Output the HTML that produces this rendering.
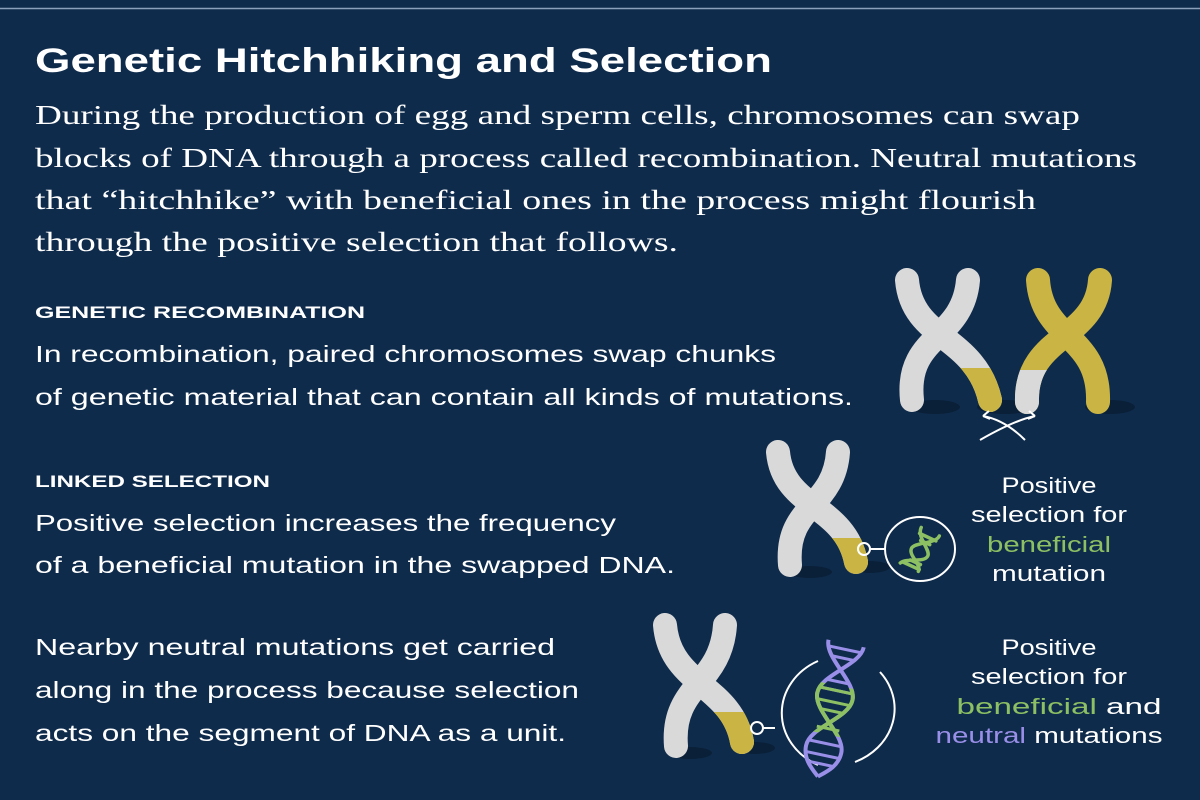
<!DOCTYPE html>
<html><head><meta charset="utf-8"><style>
html,body{margin:0;padding:0;background:#0f2b4c;}
svg{display:block}
.t{font-family:"Liberation Sans",sans-serif;fill:#fff}
.s{font-family:"Liberation Serif",serif;fill:#fff}
</style></head><body>
<svg width="1200" height="800" viewBox="0 0 1200 800" xmlns="http://www.w3.org/2000/svg">
<defs>
<clipPath id="c1"><rect x="955" y="368" width="60" height="60"/></clipPath>
<clipPath id="c2"><rect x="1000" y="370" width="60" height="60"/></clipPath>
<clipPath id="c3"><rect x="820" y="538" width="60" height="60"/></clipPath>
<clipPath id="c4"><rect x="705" y="712" width="60" height="60"/></clipPath>
<clipPath id="cg"><rect x="780" y="685" width="100" height="50"/></clipPath>
</defs>
<rect width="1200" height="800" fill="#0f2b4c"/>
<line x1="0" y1="8.5" x2="1200" y2="8.5" stroke="#8aa0bb" stroke-width="1.5"/>
<text x="35" y="72" class="t" font-size="34" font-weight="bold" textLength="737" lengthAdjust="spacingAndGlyphs">Genetic Hitchhiking and Selection</text>
<g class="s" font-size="27">
<text x="35" y="124" textLength="1045" lengthAdjust="spacingAndGlyphs">During the production of egg and sperm cells, chromosomes can swap</text>
<text x="35" y="167" textLength="1102" lengthAdjust="spacingAndGlyphs">blocks of DNA through a process called recombination. Neutral mutations</text>
<text x="35" y="209" textLength="1001" lengthAdjust="spacingAndGlyphs">that “hitchhike” with beneficial ones in the process might flourish</text>
<text x="35" y="251" textLength="643" lengthAdjust="spacingAndGlyphs">through the positive selection that follows.</text>
</g>
<g class="t">
<text x="35" y="318" font-size="17" font-weight="bold" textLength="330" lengthAdjust="spacingAndGlyphs">GENETIC RECOMBINATION</text>
<text x="35" y="362" font-size="23" textLength="741" lengthAdjust="spacingAndGlyphs">In recombination, paired chromosomes swap chunks</text>
<text x="35" y="405" font-size="23" textLength="818" lengthAdjust="spacingAndGlyphs">of genetic material that can contain all kinds of mutations.</text>
<text x="35" y="487" font-size="17" font-weight="bold" textLength="235" lengthAdjust="spacingAndGlyphs">LINKED SELECTION</text>
<text x="35" y="531" font-size="23" textLength="581" lengthAdjust="spacingAndGlyphs">Positive selection increases the frequency</text>
<text x="35" y="573" font-size="23" textLength="640" lengthAdjust="spacingAndGlyphs">of a beneficial mutation in the swapped DNA.</text>
<text x="35" y="655" font-size="23" textLength="520" lengthAdjust="spacingAndGlyphs">Nearby neutral mutations get carried</text>
<text x="35" y="698" font-size="23" textLength="544" lengthAdjust="spacingAndGlyphs">along in the process because selection</text>
<text x="35" y="741" font-size="23" textLength="531" lengthAdjust="spacingAndGlyphs">acts on the segment of DNA as a unit.</text>
</g>
<g class="t" font-size="22" text-anchor="middle">
<text x="1049" y="493" textLength="95" lengthAdjust="spacingAndGlyphs">Positive</text>
<text x="1049" y="522" textLength="156" lengthAdjust="spacingAndGlyphs">selection for</text>
<text x="1049" y="552" style="fill:#8cc063" textLength="124" lengthAdjust="spacingAndGlyphs">beneficial</text>
<text x="1049" y="581" textLength="114" lengthAdjust="spacingAndGlyphs">mutation</text>
<text x="1049" y="655" textLength="95" lengthAdjust="spacingAndGlyphs">Positive</text>
<text x="1049" y="684" textLength="156" lengthAdjust="spacingAndGlyphs">selection for</text>
<text x="1059" y="714" textLength="205" lengthAdjust="spacingAndGlyphs"><tspan style="fill:#8cc063">beneficial</tspan> and</text>
<text x="1049" y="743" textLength="227" lengthAdjust="spacingAndGlyphs"><tspan style="fill:#9a8fe8">neutral</tspan> mutations</text>
</g>
<g fill="#0a2038">
<ellipse cx="935" cy="407" rx="25" ry="7"/><ellipse cx="1005" cy="407" rx="28" ry="7"/><ellipse cx="1110" cy="407" rx="25" ry="7"/>
<ellipse cx="810" cy="572" rx="22" ry="6"/><ellipse cx="870" cy="567" rx="20" ry="6"/>
<ellipse cx="690" cy="753" rx="22" ry="6"/><ellipse cx="755" cy="748" rx="20" ry="6"/>
</g>
<g fill="none" stroke-linecap="round" stroke-width="24">
<path d="M907 280 C912 340 975 335 990 400" stroke="#d9d9d9"/>
<path d="M907 280 C912 340 975 335 990 400" stroke="#c9b444" clip-path="url(#c1)"/>
<path d="M968 280 C963 340 905 335 912 400" stroke="#d9d9d9"/>
<path d="M1038 280 C1042 340 1100 335 1098 402" stroke="#c9b444"/>
<path d="M1100 280 C1096 340 1025 335 1027 402" stroke="#c9b444"/>
<path d="M1100 280 C1096 340 1025 335 1027 402" stroke="#d9d9d9" clip-path="url(#c2)"/>
<path d="M778 452 C783 508 845 505 856 562" stroke="#d9d9d9"/>
<path d="M778 452 C783 508 845 505 856 562" stroke="#c9b444" clip-path="url(#c3)"/>
<path d="M838 452 C834 508 785 505 790 565" stroke="#d9d9d9"/>
<path d="M665 625 C670 685 732 685 742 742" stroke="#d9d9d9"/>
<path d="M665 625 C670 685 732 685 742 742" stroke="#c9b444" clip-path="url(#c4)"/>
<path d="M725 625 C721 685 671 685 676 746" stroke="#d9d9d9"/>
</g>
<g fill="none" stroke="#fff" stroke-width="2">
<path d="M983 416 Q1005 420 1025 440"/><path d="M1035 416 Q1015 420 980 440"/>
<path d="M983 416 l6 -5 M983 416 l7 3"/><path d="M1035 416 l-6 -5 M1035 416 l-7 3"/>
</g>
<g fill="none" stroke="#fff" stroke-width="2">
<circle cx="864" cy="549" r="6"/><line x1="870" y1="549" x2="885" y2="549"/>
<ellipse cx="920" cy="549" rx="35" ry="32"/>
<circle cx="757" cy="728" r="6"/><line x1="763" y1="728" x2="775" y2="728"/>
<path d="M818 661 A65 58 0 0 0 818 765"/><path d="M880 672 A65 58 0 0 1 855 762"/>
</g>
<g fill="none" stroke="#8cc063" stroke-width="3.5" stroke-linecap="round" transform="rotate(25 920 549)">
<path d="M912 529 C912 540 930 545 930 552 C930 560 912 562 908 570"/>
<path d="M932 529 C932 538 912 545 912 552 C912 560 928 562 928 570"/>
<path d="M913 535h18M917 541h10M916 563h11M910 568h18"/>
</g>
<g transform="rotate(12 832 710)">
<g fill="none" stroke-width="4" stroke="#9a8fe8">
<path d="M814 642 C814 661 850 677 850 696 C850 715 814 731 814 750 C814 764 825 772 832 778"/>
<path d="M850 642 C850 661 814 677 814 696 C814 715 850 731 850 750 C850 764 839 772 832 778"/>
<path d="M815 648h34M820.5 657h23M820.5 681h23M815 690h34M815 744h34M815 756h34M820.5 765h23" stroke-width="3"/>
</g>
<g fill="none" stroke-width="4" stroke="#8cc063" clip-path="url(#cg)">
<path d="M814 642 C814 661 850 677 850 696 C850 715 814 731 814 750"/>
<path d="M850 642 C850 661 814 677 814 696 C814 715 850 731 850 750"/>
<path d="M815 690h34M815 702h34M820.5 711h23M820.5 729h23" stroke-width="3"/>
</g>
</g>
</svg>
</body></html>
